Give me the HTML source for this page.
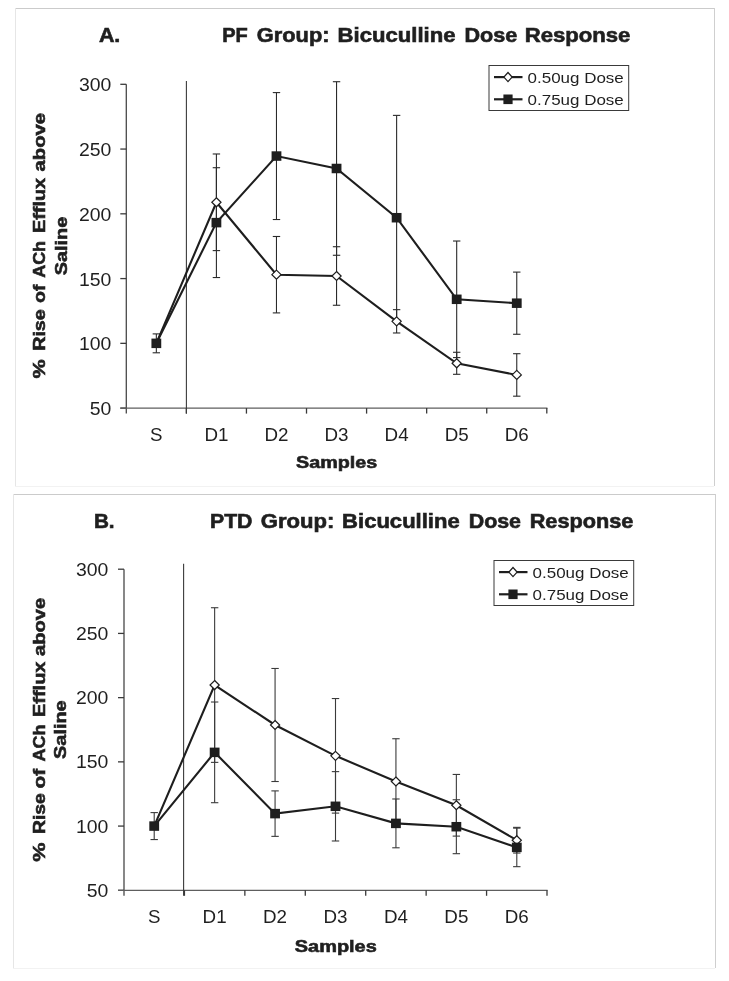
<!DOCTYPE html>
<html><head><meta charset="utf-8"><style>
html,body{margin:0;padding:0;background:#fff;}
svg{display:block;}
text{font-family:"Liberation Sans", sans-serif;}
svg{will-change:transform;}
</style></head><body>
<svg width="729" height="981" viewBox="0 0 729 981">
<rect x="0" y="0" width="729" height="981" fill="#fff"/>
<line x1="15" y1="8.5" x2="715" y2="8.5" stroke="#cbcbcb" stroke-width="1"/>
<line x1="714.5" y1="8" x2="714.5" y2="486" stroke="#cfcfcf" stroke-width="1"/>
<line x1="15.5" y1="8" x2="15.5" y2="486" stroke="#e6e6e6" stroke-width="1"/>
<line x1="15" y1="486.5" x2="714" y2="486.5" stroke="#f2f2f2" stroke-width="1"/>
<line x1="126.3" y1="84.3" x2="126.3" y2="413.6" stroke="#484848" stroke-width="1.3"/>
<line x1="120.3" y1="408.10" x2="126.3" y2="408.10" stroke="#3a3a3a" stroke-width="1.3"/>
<line x1="120.3" y1="343.34" x2="126.3" y2="343.34" stroke="#3a3a3a" stroke-width="1.3"/>
<line x1="120.3" y1="278.58" x2="126.3" y2="278.58" stroke="#3a3a3a" stroke-width="1.3"/>
<line x1="120.3" y1="213.82" x2="126.3" y2="213.82" stroke="#3a3a3a" stroke-width="1.3"/>
<line x1="120.3" y1="149.06" x2="126.3" y2="149.06" stroke="#3a3a3a" stroke-width="1.3"/>
<line x1="120.3" y1="84.30" x2="126.3" y2="84.30" stroke="#3a3a3a" stroke-width="1.3"/>
<line x1="120.3" y1="408.1" x2="547.4" y2="408.1" stroke="#5e5e5e" stroke-width="1.3"/>
<line x1="186.37" y1="408.1" x2="186.37" y2="413.6" stroke="#3a3a3a" stroke-width="1.3"/>
<line x1="246.44" y1="408.1" x2="246.44" y2="413.6" stroke="#3a3a3a" stroke-width="1.3"/>
<line x1="306.51" y1="408.1" x2="306.51" y2="413.6" stroke="#3a3a3a" stroke-width="1.3"/>
<line x1="366.59" y1="408.1" x2="366.59" y2="413.6" stroke="#3a3a3a" stroke-width="1.3"/>
<line x1="426.66" y1="408.1" x2="426.66" y2="413.6" stroke="#3a3a3a" stroke-width="1.3"/>
<line x1="486.73" y1="408.1" x2="486.73" y2="413.6" stroke="#3a3a3a" stroke-width="1.3"/>
<line x1="546.80" y1="408.1" x2="546.80" y2="413.6" stroke="#3a3a3a" stroke-width="1.3"/>
<line x1="186.4" y1="81" x2="186.4" y2="413.6" stroke="#3a3a3a" stroke-width="1.1"/>
<text x="89.80" y="415.10" font-size="17.5" textLength="21.6" lengthAdjust="spacingAndGlyphs" fill="#1f1f1f">50</text>
<text x="79.00" y="350.34" font-size="17.5" textLength="32.4" lengthAdjust="spacingAndGlyphs" fill="#1f1f1f">100</text>
<text x="79.00" y="285.58" font-size="17.5" textLength="32.4" lengthAdjust="spacingAndGlyphs" fill="#1f1f1f">150</text>
<text x="79.00" y="220.82" font-size="17.5" textLength="32.4" lengthAdjust="spacingAndGlyphs" fill="#1f1f1f">200</text>
<text x="79.00" y="156.06" font-size="17.5" textLength="32.4" lengthAdjust="spacingAndGlyphs" fill="#1f1f1f">250</text>
<text x="79.00" y="91.30" font-size="17.5" textLength="32.4" lengthAdjust="spacingAndGlyphs" fill="#1f1f1f">300</text>
<text x="150.09" y="440.8" font-size="17.5" textLength="12.5" lengthAdjust="spacingAndGlyphs" fill="#1f1f1f">S</text>
<text x="204.41" y="440.8" font-size="17.5" textLength="24" lengthAdjust="spacingAndGlyphs" fill="#1f1f1f">D1</text>
<text x="264.48" y="440.8" font-size="17.5" textLength="24" lengthAdjust="spacingAndGlyphs" fill="#1f1f1f">D2</text>
<text x="324.55" y="440.8" font-size="17.5" textLength="24" lengthAdjust="spacingAndGlyphs" fill="#1f1f1f">D3</text>
<text x="384.62" y="440.8" font-size="17.5" textLength="24" lengthAdjust="spacingAndGlyphs" fill="#1f1f1f">D4</text>
<text x="444.69" y="440.8" font-size="17.5" textLength="24" lengthAdjust="spacingAndGlyphs" fill="#1f1f1f">D5</text>
<text x="504.76" y="440.8" font-size="17.5" textLength="24" lengthAdjust="spacingAndGlyphs" fill="#1f1f1f">D6</text>
<text  x="98.9" y="41.9" font-size="19.5" font-weight="bold" stroke="#1f1f1f" stroke-width="0.6" textLength="21.42" lengthAdjust="spacingAndGlyphs" fill="#1f1f1f">A.</text>
<text  x="222.2" y="41.9" font-size="19.5" font-weight="bold" stroke="#1f1f1f" stroke-width="0.6" textLength="25.56" lengthAdjust="spacingAndGlyphs" fill="#1f1f1f">PF</text>
<text  x="256.87" y="41.9" font-size="19.5" font-weight="bold" stroke="#1f1f1f" stroke-width="0.6" textLength="72.62" lengthAdjust="spacingAndGlyphs" fill="#1f1f1f">Group:</text>
<text  x="337.6" y="41.9" font-size="19.5" font-weight="bold" stroke="#1f1f1f" stroke-width="0.6" textLength="117.96" lengthAdjust="spacingAndGlyphs" fill="#1f1f1f">Bicuculline</text>
<text  x="464.4" y="41.9" font-size="19.5" font-weight="bold" stroke="#1f1f1f" stroke-width="0.6" textLength="52.75" lengthAdjust="spacingAndGlyphs" fill="#1f1f1f">Dose</text>
<text  x="524.7" y="41.9" font-size="19.5" font-weight="bold" stroke="#1f1f1f" stroke-width="0.6" textLength="105.75" lengthAdjust="spacingAndGlyphs" fill="#1f1f1f">Response</text>
<text  x="296.0" y="467.9" font-size="17.2" font-weight="bold" stroke="#1f1f1f" stroke-width="0.6" textLength="81.2" lengthAdjust="spacingAndGlyphs" fill="#1f1f1f">Samples</text>
<text transform="translate(45.4,400) rotate(-90)" x="228.6" y="0" font-size="17" font-weight="bold" stroke="#1f1f1f" stroke-width="0.6" textLength="58.42" lengthAdjust="spacingAndGlyphs" fill="#1f1f1f">above</text>
<text transform="translate(45.4,400) rotate(-90)" x="166.9" y="0" font-size="17" font-weight="bold" stroke="#1f1f1f" stroke-width="0.6" textLength="55.21" lengthAdjust="spacingAndGlyphs" fill="#1f1f1f">Efflux</text>
<text transform="translate(45.4,400) rotate(-90)" x="122.2" y="0" font-size="17" font-weight="bold" stroke="#1f1f1f" stroke-width="0.6" textLength="36.9" lengthAdjust="spacingAndGlyphs" fill="#1f1f1f">ACh</text>
<text transform="translate(45.4,400) rotate(-90)" x="97.0" y="0" font-size="17" font-weight="bold" stroke="#1f1f1f" stroke-width="0.6" textLength="18.42" lengthAdjust="spacingAndGlyphs" fill="#1f1f1f">of</text>
<text transform="translate(45.4,400) rotate(-90)" x="49.2" y="0" font-size="17" font-weight="bold" stroke="#1f1f1f" stroke-width="0.6" textLength="41.59" lengthAdjust="spacingAndGlyphs" fill="#1f1f1f">Rise</text>
<text transform="translate(45.4,400) rotate(-90)" x="21.6" y="0" font-size="17" font-weight="bold" stroke="#1f1f1f" stroke-width="0.6" textLength="19.16" lengthAdjust="spacingAndGlyphs" fill="#1f1f1f">%</text>
<text transform="translate(67.0,400) rotate(-90)" x="124.8" y="0" font-size="17" font-weight="bold" stroke="#1f1f1f" stroke-width="0.6" textLength="58.42" lengthAdjust="spacingAndGlyphs" fill="#1f1f1f">Saline</text>
<line x1="216.41" y1="153.98" x2="216.41" y2="250.60" stroke="#2a2a2a" stroke-width="1.1"/>
<line x1="212.71" y1="153.98" x2="220.11" y2="153.98" stroke="#2a2a2a" stroke-width="1.1"/>
<line x1="212.71" y1="250.60" x2="220.11" y2="250.60" stroke="#2a2a2a" stroke-width="1.1"/>
<line x1="276.48" y1="236.49" x2="276.48" y2="312.90" stroke="#2a2a2a" stroke-width="1.1"/>
<line x1="272.78" y1="236.49" x2="280.18" y2="236.49" stroke="#2a2a2a" stroke-width="1.1"/>
<line x1="272.78" y1="312.90" x2="280.18" y2="312.90" stroke="#2a2a2a" stroke-width="1.1"/>
<line x1="336.55" y1="246.72" x2="336.55" y2="305.26" stroke="#2a2a2a" stroke-width="1.1"/>
<line x1="332.85" y1="246.72" x2="340.25" y2="246.72" stroke="#2a2a2a" stroke-width="1.1"/>
<line x1="332.85" y1="305.26" x2="340.25" y2="305.26" stroke="#2a2a2a" stroke-width="1.1"/>
<line x1="396.62" y1="309.66" x2="396.62" y2="332.98" stroke="#2a2a2a" stroke-width="1.1"/>
<line x1="392.92" y1="309.66" x2="400.32" y2="309.66" stroke="#2a2a2a" stroke-width="1.1"/>
<line x1="392.92" y1="332.98" x2="400.32" y2="332.98" stroke="#2a2a2a" stroke-width="1.1"/>
<line x1="456.69" y1="352.28" x2="456.69" y2="374.30" stroke="#2a2a2a" stroke-width="1.1"/>
<line x1="452.99" y1="352.28" x2="460.39" y2="352.28" stroke="#2a2a2a" stroke-width="1.1"/>
<line x1="452.99" y1="374.30" x2="460.39" y2="374.30" stroke="#2a2a2a" stroke-width="1.1"/>
<line x1="516.76" y1="353.70" x2="516.76" y2="396.18" stroke="#2a2a2a" stroke-width="1.1"/>
<line x1="513.06" y1="353.70" x2="520.46" y2="353.70" stroke="#2a2a2a" stroke-width="1.1"/>
<line x1="513.06" y1="396.18" x2="520.46" y2="396.18" stroke="#2a2a2a" stroke-width="1.1"/>
<line x1="156.34" y1="333.89" x2="156.34" y2="352.79" stroke="#2a2a2a" stroke-width="1.1"/>
<line x1="152.64" y1="333.89" x2="160.04" y2="333.89" stroke="#2a2a2a" stroke-width="1.1"/>
<line x1="152.64" y1="352.79" x2="160.04" y2="352.79" stroke="#2a2a2a" stroke-width="1.1"/>
<line x1="216.41" y1="167.71" x2="216.41" y2="277.54" stroke="#2a2a2a" stroke-width="1.1"/>
<line x1="212.71" y1="167.71" x2="220.11" y2="167.71" stroke="#2a2a2a" stroke-width="1.1"/>
<line x1="212.71" y1="277.54" x2="220.11" y2="277.54" stroke="#2a2a2a" stroke-width="1.1"/>
<line x1="276.48" y1="92.59" x2="276.48" y2="219.52" stroke="#2a2a2a" stroke-width="1.1"/>
<line x1="272.78" y1="92.59" x2="280.18" y2="92.59" stroke="#2a2a2a" stroke-width="1.1"/>
<line x1="272.78" y1="219.52" x2="280.18" y2="219.52" stroke="#2a2a2a" stroke-width="1.1"/>
<line x1="336.55" y1="81.71" x2="336.55" y2="255.27" stroke="#2a2a2a" stroke-width="1.1"/>
<line x1="332.85" y1="81.71" x2="340.25" y2="81.71" stroke="#2a2a2a" stroke-width="1.1"/>
<line x1="332.85" y1="255.27" x2="340.25" y2="255.27" stroke="#2a2a2a" stroke-width="1.1"/>
<line x1="396.62" y1="115.38" x2="396.62" y2="320.03" stroke="#2a2a2a" stroke-width="1.1"/>
<line x1="392.92" y1="115.38" x2="400.32" y2="115.38" stroke="#2a2a2a" stroke-width="1.1"/>
<line x1="392.92" y1="320.03" x2="400.32" y2="320.03" stroke="#2a2a2a" stroke-width="1.1"/>
<line x1="456.69" y1="241.02" x2="456.69" y2="357.59" stroke="#2a2a2a" stroke-width="1.1"/>
<line x1="452.99" y1="241.02" x2="460.39" y2="241.02" stroke="#2a2a2a" stroke-width="1.1"/>
<line x1="452.99" y1="357.59" x2="460.39" y2="357.59" stroke="#2a2a2a" stroke-width="1.1"/>
<line x1="516.76" y1="272.10" x2="516.76" y2="334.27" stroke="#2a2a2a" stroke-width="1.1"/>
<line x1="513.06" y1="272.10" x2="520.46" y2="272.10" stroke="#2a2a2a" stroke-width="1.1"/>
<line x1="513.06" y1="334.27" x2="520.46" y2="334.27" stroke="#2a2a2a" stroke-width="1.1"/>
<polyline points="156.34,343.34 216.41,202.29 276.48,274.69 336.55,275.99 396.62,321.32 456.69,363.29 516.76,374.94" fill="none" stroke="#1e1e1e" stroke-width="2.1" stroke-linejoin="miter"/>
<path d="M216.41,197.79 L221.01,202.29 L216.41,206.79 L211.81,202.29 Z" fill="#fff" stroke="#1e1e1e" stroke-width="1.2"/>
<path d="M276.48,270.19 L281.08,274.69 L276.48,279.19 L271.88,274.69 Z" fill="#fff" stroke="#1e1e1e" stroke-width="1.2"/>
<path d="M336.55,271.49 L341.15,275.99 L336.55,280.49 L331.95,275.99 Z" fill="#fff" stroke="#1e1e1e" stroke-width="1.2"/>
<path d="M396.62,316.82 L401.22,321.32 L396.62,325.82 L392.02,321.32 Z" fill="#fff" stroke="#1e1e1e" stroke-width="1.2"/>
<path d="M456.69,358.79 L461.29,363.29 L456.69,367.79 L452.09,363.29 Z" fill="#fff" stroke="#1e1e1e" stroke-width="1.2"/>
<path d="M516.76,370.44 L521.36,374.94 L516.76,379.44 L512.16,374.94 Z" fill="#fff" stroke="#1e1e1e" stroke-width="1.2"/>
<polyline points="156.34,343.34 216.41,222.63 276.48,156.05 336.55,168.49 396.62,217.71 456.69,299.30 516.76,303.19" fill="none" stroke="#1e1e1e" stroke-width="2.1" stroke-linejoin="miter"/>
<rect x="151.44" y="338.59" width="9.8" height="9.5" fill="#1e1e1e"/>
<rect x="211.51" y="217.88" width="9.8" height="9.5" fill="#1e1e1e"/>
<rect x="271.58" y="151.30" width="9.8" height="9.5" fill="#1e1e1e"/>
<rect x="331.65" y="163.74" width="9.8" height="9.5" fill="#1e1e1e"/>
<rect x="391.72" y="212.96" width="9.8" height="9.5" fill="#1e1e1e"/>
<rect x="451.79" y="294.55" width="9.8" height="9.5" fill="#1e1e1e"/>
<rect x="511.86" y="298.44" width="9.8" height="9.5" fill="#1e1e1e"/>
<rect x="489.0" y="65.5" width="139.7" height="45" fill="#fff" stroke="#3a3a3a" stroke-width="1"/>
<line x1="494.0" y1="77.1" x2="522.5" y2="77.1" stroke="#1e1e1e" stroke-width="2.2"/>
<path d="M508.00,72.50 L512.10,77.10 L508.00,81.70 L503.90,77.10 Z" fill="#fff" stroke="#1e1e1e" stroke-width="1.2"/>
<line x1="494.0" y1="99.3" x2="522.5" y2="99.3" stroke="#1e1e1e" stroke-width="2.2"/>
<rect x="503.40" y="94.50" width="9.2" height="9.6" fill="#1e1e1e"/>
<text x="527.6" y="83.0" font-size="15" textLength="96.19999999999993" lengthAdjust="spacingAndGlyphs" fill="#1f1f1f">0.50ug Dose</text>
<text x="527.6" y="105.4" font-size="15" textLength="96.19999999999993" lengthAdjust="spacingAndGlyphs" fill="#1f1f1f">0.75ug Dose</text>
<line x1="13" y1="494.5" x2="716" y2="494.5" stroke="#cbcbcb" stroke-width="1"/>
<line x1="715.5" y1="494" x2="715.5" y2="968" stroke="#cfcfcf" stroke-width="1"/>
<line x1="13.5" y1="494" x2="13.5" y2="968" stroke="#e6e6e6" stroke-width="1"/>
<line x1="13" y1="968.5" x2="715" y2="968.5" stroke="#f2f2f2" stroke-width="1"/>
<line x1="124.0" y1="569.2" x2="124.0" y2="895.8" stroke="#484848" stroke-width="1.3"/>
<line x1="118.0" y1="890.30" x2="124.0" y2="890.30" stroke="#3a3a3a" stroke-width="1.3"/>
<line x1="118.0" y1="826.08" x2="124.0" y2="826.08" stroke="#3a3a3a" stroke-width="1.3"/>
<line x1="118.0" y1="761.86" x2="124.0" y2="761.86" stroke="#3a3a3a" stroke-width="1.3"/>
<line x1="118.0" y1="697.64" x2="124.0" y2="697.64" stroke="#3a3a3a" stroke-width="1.3"/>
<line x1="118.0" y1="633.42" x2="124.0" y2="633.42" stroke="#3a3a3a" stroke-width="1.3"/>
<line x1="118.0" y1="569.20" x2="124.0" y2="569.20" stroke="#3a3a3a" stroke-width="1.3"/>
<line x1="118.0" y1="890.3" x2="547.6" y2="890.3" stroke="#5e5e5e" stroke-width="1.3"/>
<line x1="184.43" y1="890.3" x2="184.43" y2="895.8" stroke="#3a3a3a" stroke-width="1.3"/>
<line x1="244.86" y1="890.3" x2="244.86" y2="895.8" stroke="#3a3a3a" stroke-width="1.3"/>
<line x1="305.29" y1="890.3" x2="305.29" y2="895.8" stroke="#3a3a3a" stroke-width="1.3"/>
<line x1="365.71" y1="890.3" x2="365.71" y2="895.8" stroke="#3a3a3a" stroke-width="1.3"/>
<line x1="426.14" y1="890.3" x2="426.14" y2="895.8" stroke="#3a3a3a" stroke-width="1.3"/>
<line x1="486.57" y1="890.3" x2="486.57" y2="895.8" stroke="#3a3a3a" stroke-width="1.3"/>
<line x1="547.00" y1="890.3" x2="547.00" y2="895.8" stroke="#3a3a3a" stroke-width="1.3"/>
<line x1="183.6" y1="563.8" x2="183.6" y2="895.8" stroke="#3a3a3a" stroke-width="1.1"/>
<text x="86.80" y="896.90" font-size="17.5" textLength="21.6" lengthAdjust="spacingAndGlyphs" fill="#1f1f1f">50</text>
<text x="76.00" y="832.68" font-size="17.5" textLength="32.4" lengthAdjust="spacingAndGlyphs" fill="#1f1f1f">100</text>
<text x="76.00" y="768.46" font-size="17.5" textLength="32.4" lengthAdjust="spacingAndGlyphs" fill="#1f1f1f">150</text>
<text x="76.00" y="704.24" font-size="17.5" textLength="32.4" lengthAdjust="spacingAndGlyphs" fill="#1f1f1f">200</text>
<text x="76.00" y="640.02" font-size="17.5" textLength="32.4" lengthAdjust="spacingAndGlyphs" fill="#1f1f1f">250</text>
<text x="76.00" y="575.80" font-size="17.5" textLength="32.4" lengthAdjust="spacingAndGlyphs" fill="#1f1f1f">300</text>
<text x="147.96" y="922.8" font-size="17.5" textLength="12.5" lengthAdjust="spacingAndGlyphs" fill="#1f1f1f">S</text>
<text x="202.64" y="922.8" font-size="17.5" textLength="24" lengthAdjust="spacingAndGlyphs" fill="#1f1f1f">D1</text>
<text x="263.07" y="922.8" font-size="17.5" textLength="24" lengthAdjust="spacingAndGlyphs" fill="#1f1f1f">D2</text>
<text x="323.50" y="922.8" font-size="17.5" textLength="24" lengthAdjust="spacingAndGlyphs" fill="#1f1f1f">D3</text>
<text x="383.93" y="922.8" font-size="17.5" textLength="24" lengthAdjust="spacingAndGlyphs" fill="#1f1f1f">D4</text>
<text x="444.36" y="922.8" font-size="17.5" textLength="24" lengthAdjust="spacingAndGlyphs" fill="#1f1f1f">D5</text>
<text x="504.79" y="922.8" font-size="17.5" textLength="24" lengthAdjust="spacingAndGlyphs" fill="#1f1f1f">D6</text>
<text  x="93.9" y="527.7" font-size="19.5" font-weight="bold" stroke="#1f1f1f" stroke-width="0.6" textLength="20.7" lengthAdjust="spacingAndGlyphs" fill="#1f1f1f">B.</text>
<text  x="210.0" y="527.7" font-size="19.5" font-weight="bold" stroke="#1f1f1f" stroke-width="0.6" textLength="42.44" lengthAdjust="spacingAndGlyphs" fill="#1f1f1f">PTD</text>
<text  x="260.83" y="527.7" font-size="19.5" font-weight="bold" stroke="#1f1f1f" stroke-width="0.6" textLength="73.53" lengthAdjust="spacingAndGlyphs" fill="#1f1f1f">Group:</text>
<text  x="342.1" y="527.7" font-size="19.5" font-weight="bold" stroke="#1f1f1f" stroke-width="0.6" textLength="117.63" lengthAdjust="spacingAndGlyphs" fill="#1f1f1f">Bicuculline</text>
<text  x="468.7" y="527.7" font-size="19.5" font-weight="bold" stroke="#1f1f1f" stroke-width="0.6" textLength="52.32" lengthAdjust="spacingAndGlyphs" fill="#1f1f1f">Dose</text>
<text  x="529.7" y="527.7" font-size="19.5" font-weight="bold" stroke="#1f1f1f" stroke-width="0.6" textLength="103.63" lengthAdjust="spacingAndGlyphs" fill="#1f1f1f">Response</text>
<text  x="294.8" y="951.5" font-size="17.2" font-weight="bold" stroke="#1f1f1f" stroke-width="0.6" textLength="82.01" lengthAdjust="spacingAndGlyphs" fill="#1f1f1f">Samples</text>
<text transform="translate(44.5,900) rotate(-90)" x="244.0" y="0" font-size="17" font-weight="bold" stroke="#1f1f1f" stroke-width="0.6" textLength="58.21" lengthAdjust="spacingAndGlyphs" fill="#1f1f1f">above</text>
<text transform="translate(44.5,900) rotate(-90)" x="183.0" y="0" font-size="17" font-weight="bold" stroke="#1f1f1f" stroke-width="0.6" textLength="55.42" lengthAdjust="spacingAndGlyphs" fill="#1f1f1f">Efflux</text>
<text transform="translate(44.5,900) rotate(-90)" x="138.6" y="0" font-size="17" font-weight="bold" stroke="#1f1f1f" stroke-width="0.6" textLength="36.84" lengthAdjust="spacingAndGlyphs" fill="#1f1f1f">ACh</text>
<text transform="translate(44.5,900) rotate(-90)" x="111.5" y="0" font-size="17" font-weight="bold" stroke="#1f1f1f" stroke-width="0.6" textLength="19.59" lengthAdjust="spacingAndGlyphs" fill="#1f1f1f">of</text>
<text transform="translate(44.5,900) rotate(-90)" x="65.9" y="0" font-size="17" font-weight="bold" stroke="#1f1f1f" stroke-width="0.6" textLength="40.98" lengthAdjust="spacingAndGlyphs" fill="#1f1f1f">Rise</text>
<text transform="translate(44.5,900) rotate(-90)" x="38.3" y="0" font-size="17" font-weight="bold" stroke="#1f1f1f" stroke-width="0.6" textLength="19.2" lengthAdjust="spacingAndGlyphs" fill="#1f1f1f">%</text>
<text transform="translate(65.8,900) rotate(-90)" x="141.1" y="0" font-size="17" font-weight="bold" stroke="#1f1f1f" stroke-width="0.6" textLength="58.59" lengthAdjust="spacingAndGlyphs" fill="#1f1f1f">Saline</text>
<line x1="214.64" y1="607.73" x2="214.64" y2="762.37" stroke="#3a3a3a" stroke-width="1.1"/>
<line x1="210.94" y1="607.73" x2="218.34" y2="607.73" stroke="#3a3a3a" stroke-width="1.1"/>
<line x1="210.94" y1="762.37" x2="218.34" y2="762.37" stroke="#3a3a3a" stroke-width="1.1"/>
<line x1="275.07" y1="668.48" x2="275.07" y2="781.51" stroke="#3a3a3a" stroke-width="1.1"/>
<line x1="271.37" y1="668.48" x2="278.77" y2="668.48" stroke="#3a3a3a" stroke-width="1.1"/>
<line x1="271.37" y1="781.51" x2="278.77" y2="781.51" stroke="#3a3a3a" stroke-width="1.1"/>
<line x1="335.50" y1="698.54" x2="335.50" y2="813.11" stroke="#3a3a3a" stroke-width="1.1"/>
<line x1="331.80" y1="698.54" x2="339.20" y2="698.54" stroke="#3a3a3a" stroke-width="1.1"/>
<line x1="331.80" y1="813.11" x2="339.20" y2="813.11" stroke="#3a3a3a" stroke-width="1.1"/>
<line x1="395.93" y1="738.74" x2="395.93" y2="824.28" stroke="#3a3a3a" stroke-width="1.1"/>
<line x1="392.23" y1="738.74" x2="399.63" y2="738.74" stroke="#3a3a3a" stroke-width="1.1"/>
<line x1="392.23" y1="824.28" x2="399.63" y2="824.28" stroke="#3a3a3a" stroke-width="1.1"/>
<line x1="456.36" y1="774.45" x2="456.36" y2="836.10" stroke="#3a3a3a" stroke-width="1.1"/>
<line x1="452.66" y1="774.45" x2="460.06" y2="774.45" stroke="#3a3a3a" stroke-width="1.1"/>
<line x1="452.66" y1="836.10" x2="460.06" y2="836.10" stroke="#3a3a3a" stroke-width="1.1"/>
<line x1="516.79" y1="827.36" x2="516.79" y2="853.05" stroke="#3a3a3a" stroke-width="1.1"/>
<line x1="513.09" y1="827.36" x2="520.49" y2="827.36" stroke="#3a3a3a" stroke-width="1.1"/>
<line x1="513.09" y1="853.05" x2="520.49" y2="853.05" stroke="#3a3a3a" stroke-width="1.1"/>
<line x1="154.21" y1="812.59" x2="154.21" y2="839.57" stroke="#3a3a3a" stroke-width="1.1"/>
<line x1="150.51" y1="812.59" x2="157.91" y2="812.59" stroke="#3a3a3a" stroke-width="1.1"/>
<line x1="150.51" y1="839.57" x2="157.91" y2="839.57" stroke="#3a3a3a" stroke-width="1.1"/>
<line x1="214.64" y1="702.01" x2="214.64" y2="802.70" stroke="#3a3a3a" stroke-width="1.1"/>
<line x1="210.94" y1="702.01" x2="218.34" y2="702.01" stroke="#3a3a3a" stroke-width="1.1"/>
<line x1="210.94" y1="802.70" x2="218.34" y2="802.70" stroke="#3a3a3a" stroke-width="1.1"/>
<line x1="275.07" y1="790.89" x2="275.07" y2="836.36" stroke="#3a3a3a" stroke-width="1.1"/>
<line x1="271.37" y1="790.89" x2="278.77" y2="790.89" stroke="#3a3a3a" stroke-width="1.1"/>
<line x1="271.37" y1="836.36" x2="278.77" y2="836.36" stroke="#3a3a3a" stroke-width="1.1"/>
<line x1="335.50" y1="771.62" x2="335.50" y2="840.98" stroke="#3a3a3a" stroke-width="1.1"/>
<line x1="331.80" y1="771.62" x2="339.20" y2="771.62" stroke="#3a3a3a" stroke-width="1.1"/>
<line x1="331.80" y1="840.98" x2="339.20" y2="840.98" stroke="#3a3a3a" stroke-width="1.1"/>
<line x1="395.93" y1="798.98" x2="395.93" y2="847.79" stroke="#3a3a3a" stroke-width="1.1"/>
<line x1="392.23" y1="798.98" x2="399.63" y2="798.98" stroke="#3a3a3a" stroke-width="1.1"/>
<line x1="392.23" y1="847.79" x2="399.63" y2="847.79" stroke="#3a3a3a" stroke-width="1.1"/>
<line x1="456.36" y1="799.75" x2="456.36" y2="853.69" stroke="#3a3a3a" stroke-width="1.1"/>
<line x1="452.66" y1="799.75" x2="460.06" y2="799.75" stroke="#3a3a3a" stroke-width="1.1"/>
<line x1="452.66" y1="853.69" x2="460.06" y2="853.69" stroke="#3a3a3a" stroke-width="1.1"/>
<line x1="516.79" y1="828.14" x2="516.79" y2="866.67" stroke="#3a3a3a" stroke-width="1.1"/>
<line x1="513.09" y1="828.14" x2="520.49" y2="828.14" stroke="#3a3a3a" stroke-width="1.1"/>
<line x1="513.09" y1="866.67" x2="520.49" y2="866.67" stroke="#3a3a3a" stroke-width="1.1"/>
<polyline points="154.21,826.08 214.64,685.05 275.07,725.00 335.50,755.82 395.93,781.51 456.36,805.27 516.79,840.21" fill="none" stroke="#1e1e1e" stroke-width="2.1" stroke-linejoin="miter"/>
<path d="M214.64,680.55 L219.24,685.05 L214.64,689.55 L210.04,685.05 Z" fill="#fff" stroke="#1e1e1e" stroke-width="1.2"/>
<path d="M275.07,720.50 L279.67,725.00 L275.07,729.50 L270.47,725.00 Z" fill="#fff" stroke="#1e1e1e" stroke-width="1.2"/>
<path d="M335.50,751.32 L340.10,755.82 L335.50,760.32 L330.90,755.82 Z" fill="#fff" stroke="#1e1e1e" stroke-width="1.2"/>
<path d="M395.93,777.01 L400.53,781.51 L395.93,786.01 L391.33,781.51 Z" fill="#fff" stroke="#1e1e1e" stroke-width="1.2"/>
<path d="M456.36,800.77 L460.96,805.27 L456.36,809.77 L451.76,805.27 Z" fill="#fff" stroke="#1e1e1e" stroke-width="1.2"/>
<path d="M516.79,835.71 L521.39,840.21 L516.79,844.71 L512.19,840.21 Z" fill="#fff" stroke="#1e1e1e" stroke-width="1.2"/>
<polyline points="154.21,826.08 214.64,752.36 275.07,813.62 335.50,806.30 395.93,823.38 456.36,826.72 516.79,847.40" fill="none" stroke="#1e1e1e" stroke-width="2.1" stroke-linejoin="miter"/>
<rect x="149.31" y="821.33" width="9.8" height="9.5" fill="#1e1e1e"/>
<rect x="209.74" y="747.61" width="9.8" height="9.5" fill="#1e1e1e"/>
<rect x="270.17" y="808.87" width="9.8" height="9.5" fill="#1e1e1e"/>
<rect x="330.60" y="801.55" width="9.8" height="9.5" fill="#1e1e1e"/>
<rect x="391.03" y="818.63" width="9.8" height="9.5" fill="#1e1e1e"/>
<rect x="451.46" y="821.97" width="9.8" height="9.5" fill="#1e1e1e"/>
<rect x="511.89" y="842.65" width="9.8" height="9.5" fill="#1e1e1e"/>
<rect x="494.0" y="560.5" width="139.7" height="45" fill="#fff" stroke="#3a3a3a" stroke-width="1"/>
<line x1="499.0" y1="572.1" x2="527.5" y2="572.1" stroke="#1e1e1e" stroke-width="2.2"/>
<path d="M513.00,567.50 L517.10,572.10 L513.00,576.70 L508.90,572.10 Z" fill="#fff" stroke="#1e1e1e" stroke-width="1.2"/>
<line x1="499.0" y1="594.3" x2="527.5" y2="594.3" stroke="#1e1e1e" stroke-width="2.2"/>
<rect x="508.40" y="589.50" width="9.2" height="9.6" fill="#1e1e1e"/>
<text x="532.6" y="578.0" font-size="15" textLength="96.19999999999993" lengthAdjust="spacingAndGlyphs" fill="#1f1f1f">0.50ug Dose</text>
<text x="532.6" y="600.2" font-size="15" textLength="96.19999999999993" lengthAdjust="spacingAndGlyphs" fill="#1f1f1f">0.75ug Dose</text>
</svg>
</body></html>
